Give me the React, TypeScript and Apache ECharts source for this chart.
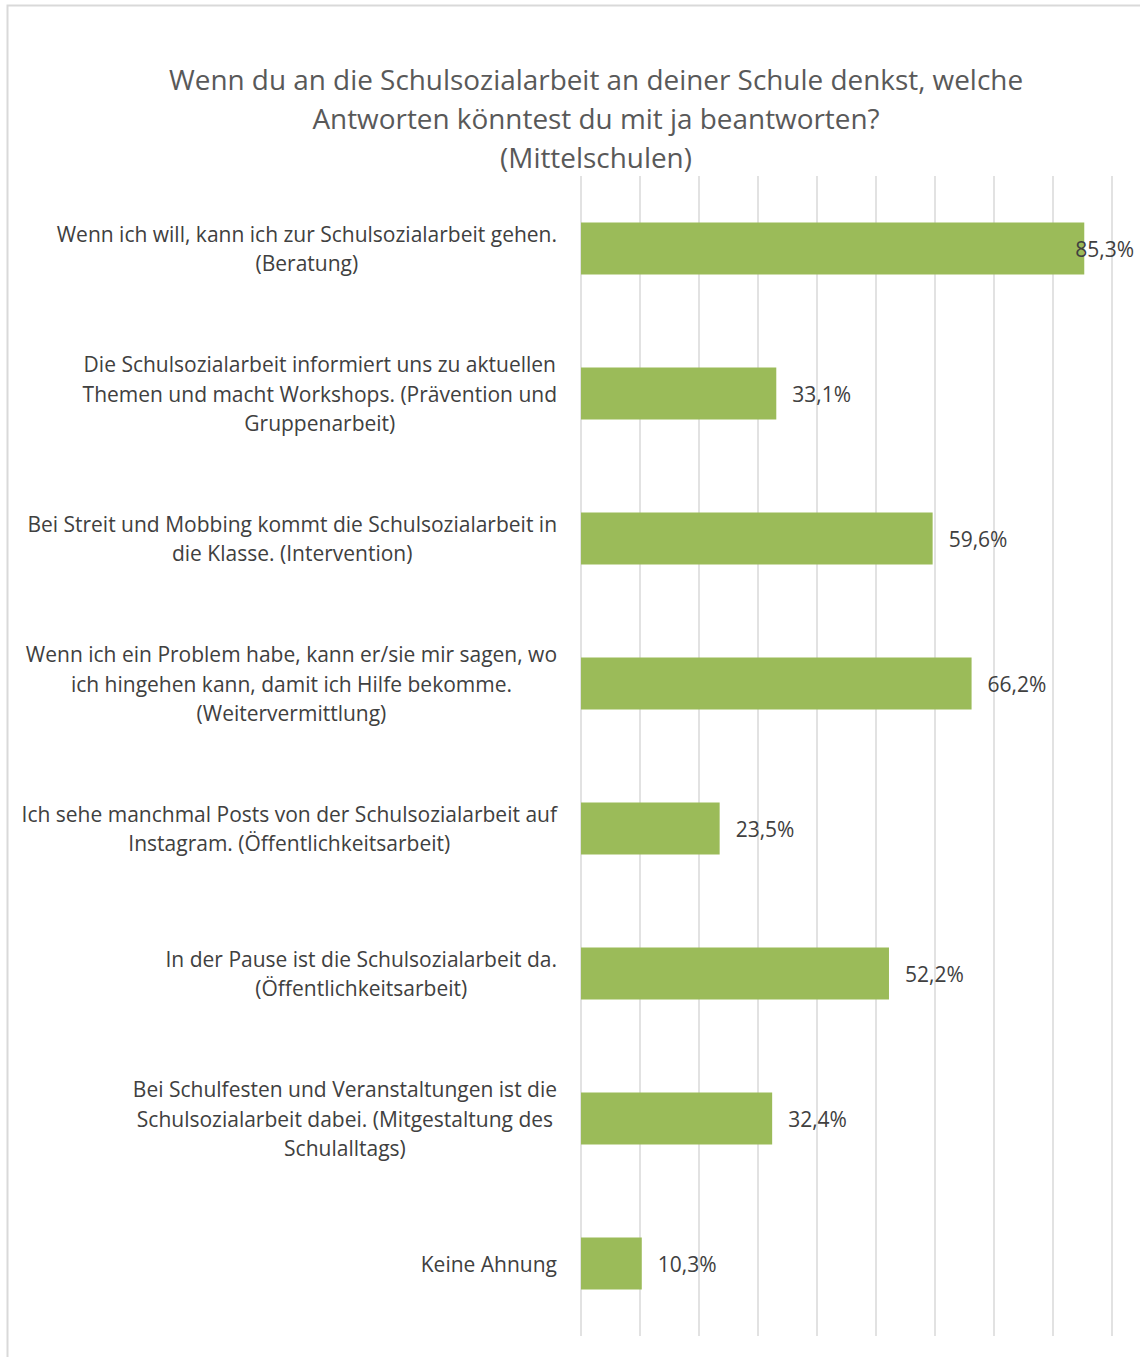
import React, { useEffect, useRef } from "react";
import * as echarts from "echarts";

const titleLines = [
  "Wenn du an die Schulsozialarbeit an deiner Schule denkst, welche",
  "Antworten könntest du mit ja beantworten?",
  "(Mittelschulen)",
];

const categories = [
  "Wenn ich will, kann ich zur Schulsozialarbeit gehen.\n(Beratung)",
  "Die Schulsozialarbeit informiert uns zu aktuellen\nThemen und macht Workshops. (Prävention und\nGruppenarbeit)",
  "Bei Streit und Mobbing kommt die Schulsozialarbeit in\ndie Klasse. (Intervention)",
  "Wenn ich ein Problem habe, kann er/sie mir sagen, wo\nich hingehen kann, damit ich Hilfe bekomme.\n(Weitervermittlung)",
  "Ich sehe manchmal Posts von der Schulsozialarbeit auf\nInstagram. (Öffentlichkeitsarbeit)",
  "In der Pause ist die Schulsozialarbeit da.\n(Öffentlichkeitsarbeit)",
  "Bei Schulfesten und Veranstaltungen ist die\nSchulsozialarbeit dabei. (Mitgestaltung des\nSchulalltags)",
  "Keine Ahnung",
];

const values = [85.3, 33.1, 59.6, 66.2, 23.5, 52.2, 32.4, 10.3];

const axisMin = 0;
const axisMax = 90;
const axisInterval = 10;

const FONT = "Open Sans";

export default function App() {
  const ref = useRef<HTMLDivElement>(null);

  useEffect(() => {
    if (!ref.current) return;
    const chart = echarts.init(ref.current, null, { renderer: "svg" });
    const fmt = (v: number) => v.toFixed(1).replace(".", ",") + "%";
    chart.setOption({
      animation: false,
      backgroundColor: "#ffffff",
      title: {
        text: titleLines.join("\n"),
        left: 591,
        top: 54,
        textAlign: "center",
        textStyle: {
          fontFamily: FONT,
          fontSize: 27.9,
          fontWeight: "normal",
          color: "#595959",
          lineHeight: 39,
        },
      },
      graphic: [
        {
          type: "rect",
          shape: { x: 7.5, y: 5.5, width: 1200, height: 1400 },
          style: { fill: "none", stroke: "#d9d9d9", lineWidth: 2 },
          silent: true,
        },
      ],
      grid: { left: 581, top: 176, width: 531, height: 1160, containLabel: false },
      xAxis: {
        type: "value",
        min: axisMin,
        max: axisMax,
        interval: axisInterval,
        axisLabel: { show: false },
        axisLine: { show: false },
        axisTick: { show: false },
        splitLine: { show: true, lineStyle: { color: "#d9d9d9", width: 1.5 } },
      },
      yAxis: {
        type: "category",
        inverse: true,
        data: categories,
        axisLine: { show: false },
        axisTick: { show: false },
        axisLabel: {
          margin: 24,
          align: "right",
          formatter: (v: string) =>
            v
              .split("\n")
              .map((l) => "{c|" + l + "}")
              .join("\n"),
          rich: {
            c: {
              align: "center",
              fontFamily: FONT,
              fontSize: 21,
              lineHeight: 29.5,
              color: "#404040",
            },
          },
        },
      },
      series: [
        {
          type: "bar",
          data: values.map((v, i) =>
            i === 0
              ? { value: v, label: { offset: [-25, 0] } }
              : { value: v }
          ),
          barWidth: 52,
          itemStyle: { color: "#9BBB59" },
          label: {
            show: true,
            position: "right",
            distance: 16,
            formatter: (p: any) => fmt(p.value),
            fontFamily: FONT,
            fontSize: 21,
            color: "#404040",
          },
        },
      ],
    });
    return () => chart.dispose();
  }, []);

  return (
    <div
      ref={ref}
      style={{ position: "absolute", left: 0, top: 0, width: 1140, height: 1357 }}
    />
  );
}
